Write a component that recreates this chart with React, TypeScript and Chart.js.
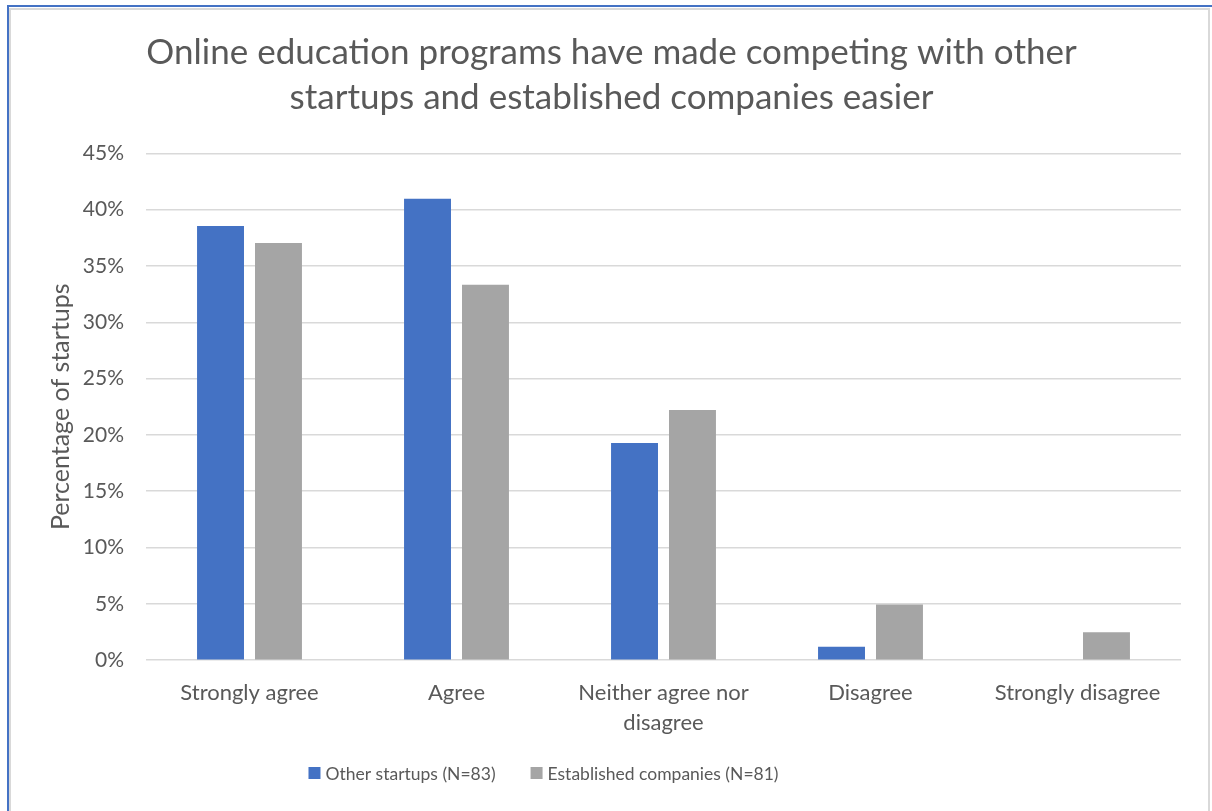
import React, { useEffect, useRef } from "react";
import { Chart, registerables } from "chart.js";

Chart.register(...registerables);

const titleLines = [
  "Online education programs have made competing with other",
  "startups and established companies easier",
];
const categories: (string | string[])[] = [
  "Strongly agree",
  "Agree",
  ["Neither agree nor", "disagree"],
  "Disagree",
  "Strongly disagree",
];
const otherStartups = [38.55, 40.96, 19.28, 1.2, 0];
const establishedCompanies = [37.04, 33.33, 22.22, 4.94, 2.47];
const seriesNames = ["Other startups (N=83)", "Established companies (N=81)"];
const seriesColors = ["#4472C4", "#A5A5A5"];
const yAxisTitle = "Percentage of startups";

const FONT = "Lato, 'Open Sans', sans-serif";
const TEXT = "#595959";

// Legend drawn from the chart's datasets, centred like the original (off-centre to the left)
const bottomLegend = {
  id: "bottomLegend",
  afterDraw(chart: any) {
    const ctx = chart.ctx as CanvasRenderingContext2D;
    const items = chart.data.datasets.map((d: any) => ({ label: d.label as string, color: d.backgroundColor as string }));
    ctx.save();
    ctx.font = `17.5px ${FONT}`;
    const box = 12;
    const gapText = 5;
    const gapItem = 35;
    const widths = items.map((it: any) => box + gapText + ctx.measureText(it.label).width);
    const total = widths.reduce((a: number, b: number) => a + b, 0) + gapItem * (items.length - 1);
    const centerX = 543.5;
    const cy = 773;
    let x = centerX - total / 2;
    ctx.textBaseline = "middle";
    ctx.textAlign = "left";
    items.forEach((it: any, i: number) => {
      ctx.fillStyle = it.color;
      ctx.fillRect(x, cy - box / 2, box, box);
      ctx.fillStyle = TEXT;
      ctx.fillText(it.label, x + box + gapText, cy + 1);
      x += widths[i] + gapItem;
    });
    ctx.restore();
  },
};

export default function App() {
  const ref = useRef<HTMLCanvasElement | null>(null);

  useEffect(() => {
    document.body.style.margin = "0";
    const ctx = ref.current!;
    const chart = new Chart(ctx, {
      type: "bar",
      data: {
        labels: categories,
        datasets: [
          {
            label: seriesNames[0],
            data: otherStartups,
            backgroundColor: seriesColors[0],
            barPercentage: 0.81,
            categoryPercentage: 0.56,
          },
          {
            label: seriesNames[1],
            data: establishedCompanies,
            backgroundColor: seriesColors[1],
            barPercentage: 0.81,
            categoryPercentage: 0.56,
          },
        ],
      },
      options: {
        animation: false,
        responsive: false,
        maintainAspectRatio: false,
        layout: { padding: { left: 42, right: 31, top: 14, bottom: 63 } },
        plugins: {
          title: {
            display: true,
            text: titleLines,
            color: TEXT,
            font: { family: FONT, size: 35, weight: "normal", lineHeight: 1.29 },
            padding: { top: 16, bottom: 33 },
          },
          legend: { display: false },
          tooltip: { enabled: false },
        },
        scales: {
          y: {
            min: 0,
            max: 45,
            ticks: {
              stepSize: 5,
              color: TEXT,
              font: { family: FONT, size: 21 },
              padding: 22,
              callback: (v: any) => v + "%",
            },
            grid: { color: "#d9d9d9", lineWidth: 1.5, drawTicks: false },
            border: { display: false },
            title: {
              display: true,
              text: yAxisTitle,
              color: TEXT,
              font: { family: FONT, size: 25 },
            },
            afterFit: (s: any) => {
              s.width = 146 - 42;
            },
          },
          x: {
            ticks: {
              color: TEXT,
              font: { family: FONT, size: 22, lineHeight: 1.36 },
              padding: 10,
              maxRotation: 0,
            },
            grid: { display: false },
            border: { display: false },
          },
        },
      },
      plugins: [bottomLegend],
    });
    return () => chart.destroy();
  }, []);

  return (
    <div style={{ position: "fixed", left: 0, top: 0, width: 1212, height: 811, background: "#fff" }}>
      <div
        style={{
          position: "absolute",
          left: 7,
          top: 5,
          width: 1210,
          height: 810,
          borderLeft: "2px solid #4472C4",
          borderTop: "2px solid #4472C4",
        }}
      />
      <div
        style={{
          position: "absolute",
          left: 9,
          top: 8,
          width: 1197,
          height: 810,
          borderLeft: "2px solid #d9d9d9",
          borderTop: "2px solid #d9d9d9",
          borderRight: "2px solid #d9d9d9",
        }}
      />
      <canvas ref={ref} width={1212} height={811} style={{ position: "absolute", left: 0, top: 0 }} />
    </div>
  );
}
